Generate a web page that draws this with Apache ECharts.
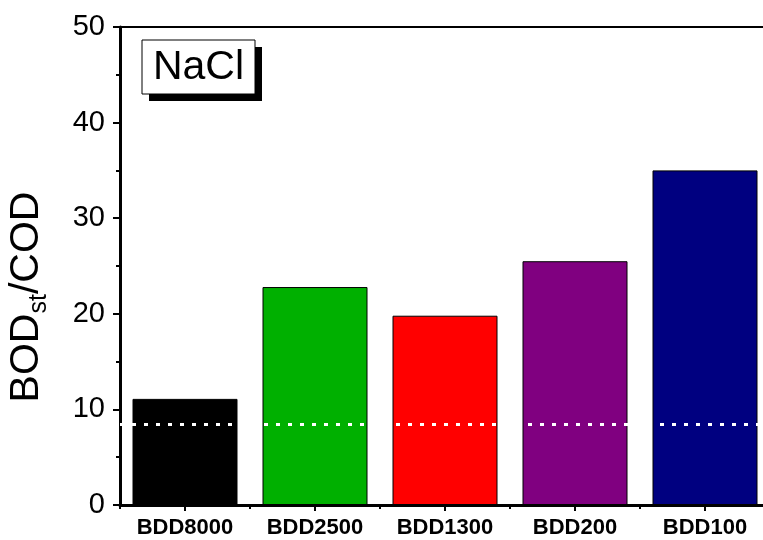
<!DOCTYPE html>
<html>
<head>
<meta charset="utf-8">
<script src="https://cdn.jsdelivr.net/npm/echarts@6/dist/echarts.min.js"></script>
<style>
  html, body { margin: 0; padding: 0; background: #ffffff; }
  #chart { width: 763px; height: 540px; }
</style>
</head>
<body>
<div id="chart"></div>
<script>
// Electrodes and their BOD_st/COD ratio in NaCl
const categories = ['BDD8000', 'BDD2500', 'BDD1300', 'BDD200', 'BDD100'];
const ratios = [11.1, 22.8, 19.8, 25.5, 35.0];
const barColors = ['#000000', '#00b000', '#ff0000', '#800080', '#000080'];
const thresholdValue = 8.4;
const yTicks = [0, 10, 20, 30, 40, 50];

const chart = echarts.init(document.getElementById('chart'), null, { renderer: 'canvas' });

// the plot frame runs slightly past the right edge of the page
const grid = { left: 120, top: 27, right: -7, bottom: 35, containLabel: false, outerBoundsMode: 'none' };

chart.setOption({
  animation: false,
  backgroundColor: '#ffffff',
  grid: grid,
  xAxis: [
    {
      type: 'category',
      data: categories,
      position: 'bottom',
      axisLine: { show: true, lineStyle: { color: '#000', width: 3 } },
      axisTick: { show: true, alignWithLabel: true, interval: 0, length: 6, lineStyle: { color: '#000', width: 2 } },
      axisLabel: {
        show: true, interval: 0, hideOverlap: false, margin: 12, color: '#000',
        fontFamily: 'Arial, "Liberation Sans", sans-serif', fontWeight: 'bold', fontSize: 22
      },
      splitLine: { show: false }
    },
    {
      // short boundary ticks between categories
      type: 'category',
      data: categories,
      position: 'bottom',
      axisLine: { show: false },
      axisTick: { show: true, interval: 0, length: 4, lineStyle: { color: '#000', width: 2 } },
      axisLabel: { show: false },
      splitLine: { show: false }
    },
    {
      // frame line along the top
      type: 'category',
      data: categories,
      position: 'top',
      axisLine: { show: true, lineStyle: { color: '#000', width: 2 } },
      axisTick: { show: false },
      axisLabel: { show: false },
      splitLine: { show: false }
    }
  ],
  yAxis: {
    type: 'value',
    min: yTicks[0],
    max: yTicks[yTicks.length - 1],
    interval: 10,
    axisLine: { show: true, lineStyle: { color: '#000', width: 3 } },
    axisTick: { show: true, length: 7, lineStyle: { color: '#000', width: 2 } },
    minorTick: { show: true, splitNumber: 2, length: 4, lineStyle: { color: '#000', width: 2 } },
    axisLabel: {
      margin: 15, color: '#000',
      fontFamily: 'Arial, "Liberation Sans", sans-serif', fontSize: 29
    },
    splitLine: { show: false }
  },
  series: [
    {
      type: 'bar',
      xAxisIndex: 0,
      barWidth: 105,
      data: ratios.map((v, i) => ({
        value: v,
        itemStyle: { color: barColors[i], borderColor: '#000', borderWidth: 1 }
      })),
      markLine: {
        silent: true,
        symbol: 'none',
        label: { show: false },
        lineStyle: { color: '#ffffff', type: [4, 8], width: 3 },
        data: [{ yAxis: thresholdValue }]
      }
    }
  ],
  graphic: [
    {
      // shadow behind the NaCl label box
      type: 'rect',
      shape: { x: 149, y: 47, width: 113, height: 54 },
      style: { fill: '#000' },
      z: 10
    },
    {
      type: 'rect',
      shape: { x: 142, y: 40, width: 113, height: 54 },
      style: { fill: '#fff', stroke: '#000', lineWidth: 1 },
      z: 11
    },
    {
      type: 'text',
      x: 198.5, y: 68,
      style: {
        text: 'NaCl',
        fill: '#000',
        font: '41px Arial, "Liberation Sans", sans-serif',
        textAlign: 'center',
        textVerticalAlign: 'middle'
      },
      z: 12
    },
    {
      // rotated axis title with subscript
      type: 'text',
      x: 27, y: 297,
      rotation: Math.PI / 2,
      style: {
        text: '{m|BOD}{s|st}{m|/COD}',
        align: 'center',
        verticalAlign: 'middle',
        rich: {
          m: { fontSize: 41, fontFamily: 'Arial, "Liberation Sans", sans-serif', fill: '#000', color: '#000' },
          s: { fontSize: 25, fontFamily: 'Arial, "Liberation Sans", sans-serif', fill: '#000', color: '#000', padding: [24, 0, 0, 0] }
        }
      },
      z: 12
    }
  ]
});
</script>
</body>
</html>
